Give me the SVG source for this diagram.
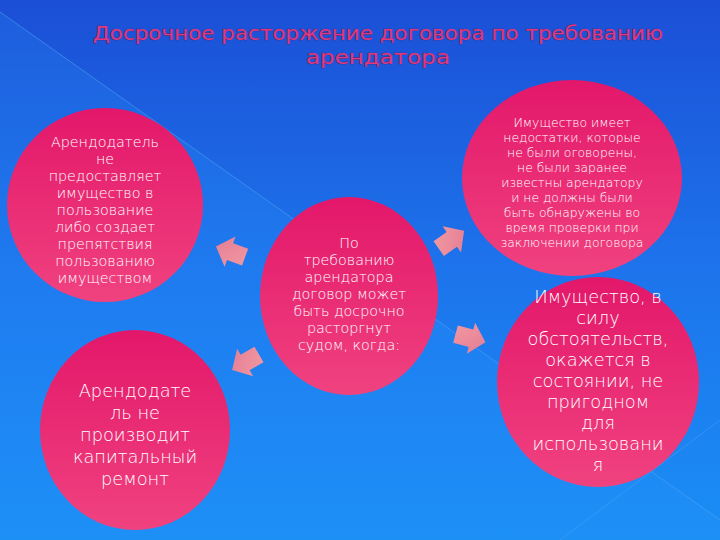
<svg xmlns="http://www.w3.org/2000/svg" width="720" height="540" viewBox="0 0 720 540">
<defs>
<linearGradient id="bg" x1="0" y1="0" x2="0" y2="1">
<stop offset="0" stop-color="#1b4fd6"/>
<stop offset="0.5" stop-color="#1d74ec"/>
<stop offset="1" stop-color="#1a8ef5"/>
</linearGradient>
<linearGradient id="ball" x1="0" y1="0" x2="0" y2="1">
<stop offset="0" stop-color="#e3176a"/>
<stop offset="1" stop-color="#f0427f"/>
</linearGradient>
<linearGradient id="arr" x1="0" y1="0" x2="1" y2="1">
<stop offset="0" stop-color="#f29aa2"/>
<stop offset="1" stop-color="#e47b94"/>
</linearGradient>
<polygon id="arrow" points="-15,-9 1,-9 1,-16 16,0 1,16 1,9 -15,9"/>
</defs>
<style>
.ball{fill:url(#ball)}
.t{font-family:"DejaVu Sans","Open Sans",sans-serif;font-weight:200;fill:#ffffff;text-anchor:middle}
.s14{font-size:14.3px}
.s12{font-size:12.4px}
.s18{font-size:17.8px}
.title{font-family:"DejaVu Sans","Open Sans",sans-serif;font-size:19px;font-weight:400;fill:#dd3a82;stroke:#5e1c5c;stroke-width:0.7;paint-order:stroke;text-anchor:middle}
.arrow{fill:url(#arr)}
</style>
<rect width="720" height="540" fill="url(#bg)"/>
<polygon points="0,12 720,520 720,540 0,540" fill="#2a9cff" opacity="0.18"/>
<line x1="0" y1="12" x2="720" y2="520" stroke="#5aaaf5" stroke-width="1" opacity="0.5"/>
<line x1="560" y1="540" x2="720" y2="420" stroke="#5aaaf5" stroke-width="1" opacity="0.4"/>

<g id="title">
<text class="title" x="378" y="40" textLength="570" lengthAdjust="spacingAndGlyphs">Досрочное расторжение договора по требованию</text>
<text class="title" x="378" y="64" textLength="144" lengthAdjust="spacingAndGlyphs">арендатора</text>
</g>

<g id="connectors">
<use href="#arrow" class="arrow" transform="translate(231,252) rotate(200)"/>
<use href="#arrow" class="arrow" transform="translate(246,362) rotate(150)"/>
<use href="#arrow" class="arrow" transform="translate(451,240) rotate(-35)"/>
<use href="#arrow" class="arrow" transform="translate(470,338) rotate(15)"/>
</g>

<g id="node-left-top">
<ellipse class="ball" cx="105" cy="205" rx="98" ry="97"/>
<text class="t s14" x="105" y="147">Арендодатель</text>
<text class="t s14" x="105" y="164">не</text>
<text class="t s14" x="105" y="181">предоставляет</text>
<text class="t s14" x="105" y="198">имущество в</text>
<text class="t s14" x="105" y="215">пользование</text>
<text class="t s14" x="105" y="232">либо создает</text>
<text class="t s14" x="105" y="249">препятствия</text>
<text class="t s14" x="105" y="266">пользованию</text>
<text class="t s14" x="105" y="283">имуществом</text>
</g>

<g id="node-left-bottom">
<ellipse class="ball" cx="135" cy="430" rx="95" ry="100"/>
<text class="t s18" x="135" y="397">Арендодате</text>
<text class="t s18" x="135" y="419">ль не</text>
<text class="t s18" x="135" y="441">производит</text>
<text class="t s18" x="135" y="463">капитальный</text>
<text class="t s18" x="135" y="485">ремонт</text>
</g>

<g id="node-center">
<ellipse class="ball" cx="349" cy="296" rx="89" ry="99"/>
<text class="t s14" x="349" y="248">По</text>
<text class="t s14" x="349" y="265">требованию</text>
<text class="t s14" x="349" y="282">арендатора</text>
<text class="t s14" x="349" y="299">договор может</text>
<text class="t s14" x="349" y="316">быть досрочно</text>
<text class="t s14" x="349" y="333">расторгнут</text>
<text class="t s14" x="349" y="350">судом, когда:</text>
</g>

<g id="node-right-top">
<ellipse class="ball" cx="572" cy="178" rx="110" ry="98"/>
<text class="t s12" x="572" y="127">Имущество имеет</text>
<text class="t s12" x="572" y="142">недостатки, которые</text>
<text class="t s12" x="572" y="157">не были оговорены,</text>
<text class="t s12" x="572" y="172">не были заранее</text>
<text class="t s12" x="572" y="187">известны арендатору</text>
<text class="t s12" x="572" y="202">и не должны были</text>
<text class="t s12" x="572" y="217">быть обнаружены во</text>
<text class="t s12" x="572" y="232">время проверки при</text>
<text class="t s12" x="572" y="247">заключении договора</text>
</g>

<g id="node-right-bottom">
<ellipse class="ball" cx="598" cy="382" rx="101" ry="105"/>
<text class="t s18" x="598" y="303">Имущество, в</text>
<text class="t s18" x="598" y="324">силу</text>
<text class="t s18" x="598" y="345">обстоятельств,</text>
<text class="t s18" x="598" y="366">окажется в</text>
<text class="t s18" x="598" y="387">состоянии, не</text>
<text class="t s18" x="598" y="408">пригодном</text>
<text class="t s18" x="598" y="429">для</text>
<text class="t s18" x="598" y="450">использовани</text>
<text class="t s18" x="598" y="471">я</text>
</g>
</svg>
